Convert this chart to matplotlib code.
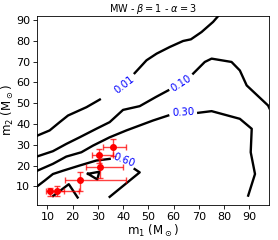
import matplotlib
matplotlib.use('Agg')
import matplotlib.pyplot as plt

# contour lines (m1, m2), split where the inline labels sit
c001_a_m1 = [6.0, 10.9, 14.9, 18.2, 25.5, 30.8]
c001_a_m2 = [34.4, 36.9, 40.9, 44.1, 48.1, 51.8]
c001_b_m1 = [44.6, 49.3, 53.3, 58.5, 63.8, 66.9, 71.1, 75.7, 77.7]
c001_b_m2 = [64.5, 70.7, 73.9, 77.1, 80.0, 80.8, 84.3, 89.2, 92.0]

c010_a_m1 = [6.0, 12.2, 17.5, 22.8, 29.4, 34.7, 40.0, 46.6, 53.0, 57.9]
c010_a_m2 = [24.4, 26.9, 30.4, 33.6, 37.7, 40.9, 46.8, 48.6, 53.0, 56.2]
c010_b_m1 = [67.8, 72.4, 75.1, 83.0, 86.3, 89.0, 97.5, 98.0]
c010_b_m2 = [64.3, 69.9, 71.5, 69.9, 65.8, 58.6, 48.9, 47.6]

c030_a_m1 = [6.0, 12.2, 17.5, 23.5, 28.1, 34.7, 41.3, 46.6, 51.9, 57.9]
c030_a_m2 = [17.5, 20.8, 24.3, 26.4, 29.6, 33.6, 36.9, 39.3, 41.7, 44.1]
c030_b_m1 = [69.8, 75.1, 86.3, 91.0, 90.6, 92.3, 89.6]
c030_b_m2 = [45.4, 46.2, 42.5, 37.7, 26.4, 15.9, 5.5]

c060_a_m1 = [6.0, 8.9, 12.2, 16.2, 22.8, 29.4, 34.7]
c060_a_m2 = [10.0, 12.7, 15.9, 17.5, 20.0, 22.4, 23.2]
c060_b_m1 = [44.6, 46.6, 34.7]
c060_b_m2 = [18.3, 16.7, 4.9]
c060_c_m1 = [26.1, 30.6, 29.8, 26.1]
c060_c_m2 = [16.0, 17.0, 13.3, 16.0]
c060_d_m1 = [12.3, 18.5, 22.0]
c060_d_m2 = [5.3, 11.0, 4.6]

segments = [(c001_a_m1, c001_a_m2), (c001_b_m1, c001_b_m2),
            (c010_a_m1, c010_a_m2), (c010_b_m1, c010_b_m2),
            (c030_a_m1, c030_a_m2), (c030_b_m1, c030_b_m2),
            (c060_a_m1, c060_a_m2), (c060_b_m1, c060_b_m2),
            (c060_c_m1, c060_c_m2), (c060_d_m1, c060_d_m2)]

label_text = ['0.01', '0.10', '0.30', '0.60']
label_m1 = [40.7, 63.0, 63.8, 40.3]
label_m2 = [59.0, 59.8, 45.6, 22.4]
label_rot = [38, 33, 3, -21]

# events
ev_m1 = [36.0, 30.5, 31.0, 22.8, 13.7, 11.0]
ev_m1_lo = [3.9, 2.8, 5.8, 5.9, 3.2, 1.7]
ev_m1_hi = [5.3, 5.5, 8.8, 18.5, 8.8, 5.5]
ev_m2 = [29.1, 25.3, 19.5, 12.9, 7.7, 7.6]
ev_m2_lo = [4.3, 4.0, 5.5, 5.1, 2.6, 2.2]
ev_m2_hi = [3.8, 2.8, 3.7, 4.1, 2.2, 1.4]

fig = plt.figure(figsize=(2.78, 2.40), dpi=100)
ax = fig.add_axes([0.134, 0.146, 0.835, 0.787])

for sx, sy in segments:
    ax.plot(sx, sy, color='black', lw=1.7)

for t, x, y, r in zip(label_text, label_m1, label_m2, label_rot):
    ax.text(x, y, t, color='blue', fontsize=7.3, rotation=r,
            ha='center', va='center', rotation_mode='anchor')

ax.errorbar(ev_m1, ev_m2, xerr=[ev_m1_lo, ev_m1_hi], yerr=[ev_m2_lo, ev_m2_hi],
            fmt='o', color='red', ms=4, ecolor=(1, 0, 0, 0.75), elinewidth=1,
            capsize=2.5)

ax.set_xlim(6, 98)
ax.set_ylim(1, 92)
ax.set_xticks(range(10, 100, 10))
ax.set_yticks(range(10, 100, 10))
ax.tick_params(labelsize=8, length=3, width=0.6, pad=2)
for s in ax.spines.values():
    s.set_linewidth(0.6)
ax.set_xlabel(r'm$_1$ (M$_\odot$)', fontsize=8.5, labelpad=1)
ax.set_ylabel(r'm$_2$ (M$_\odot$)', fontsize=8.5, labelpad=0)
ax.set_title(r'MW - $\beta = 1$ - $\alpha = 3$', fontsize=7, pad=3)

fig.savefig('out.png', dpi=100)
